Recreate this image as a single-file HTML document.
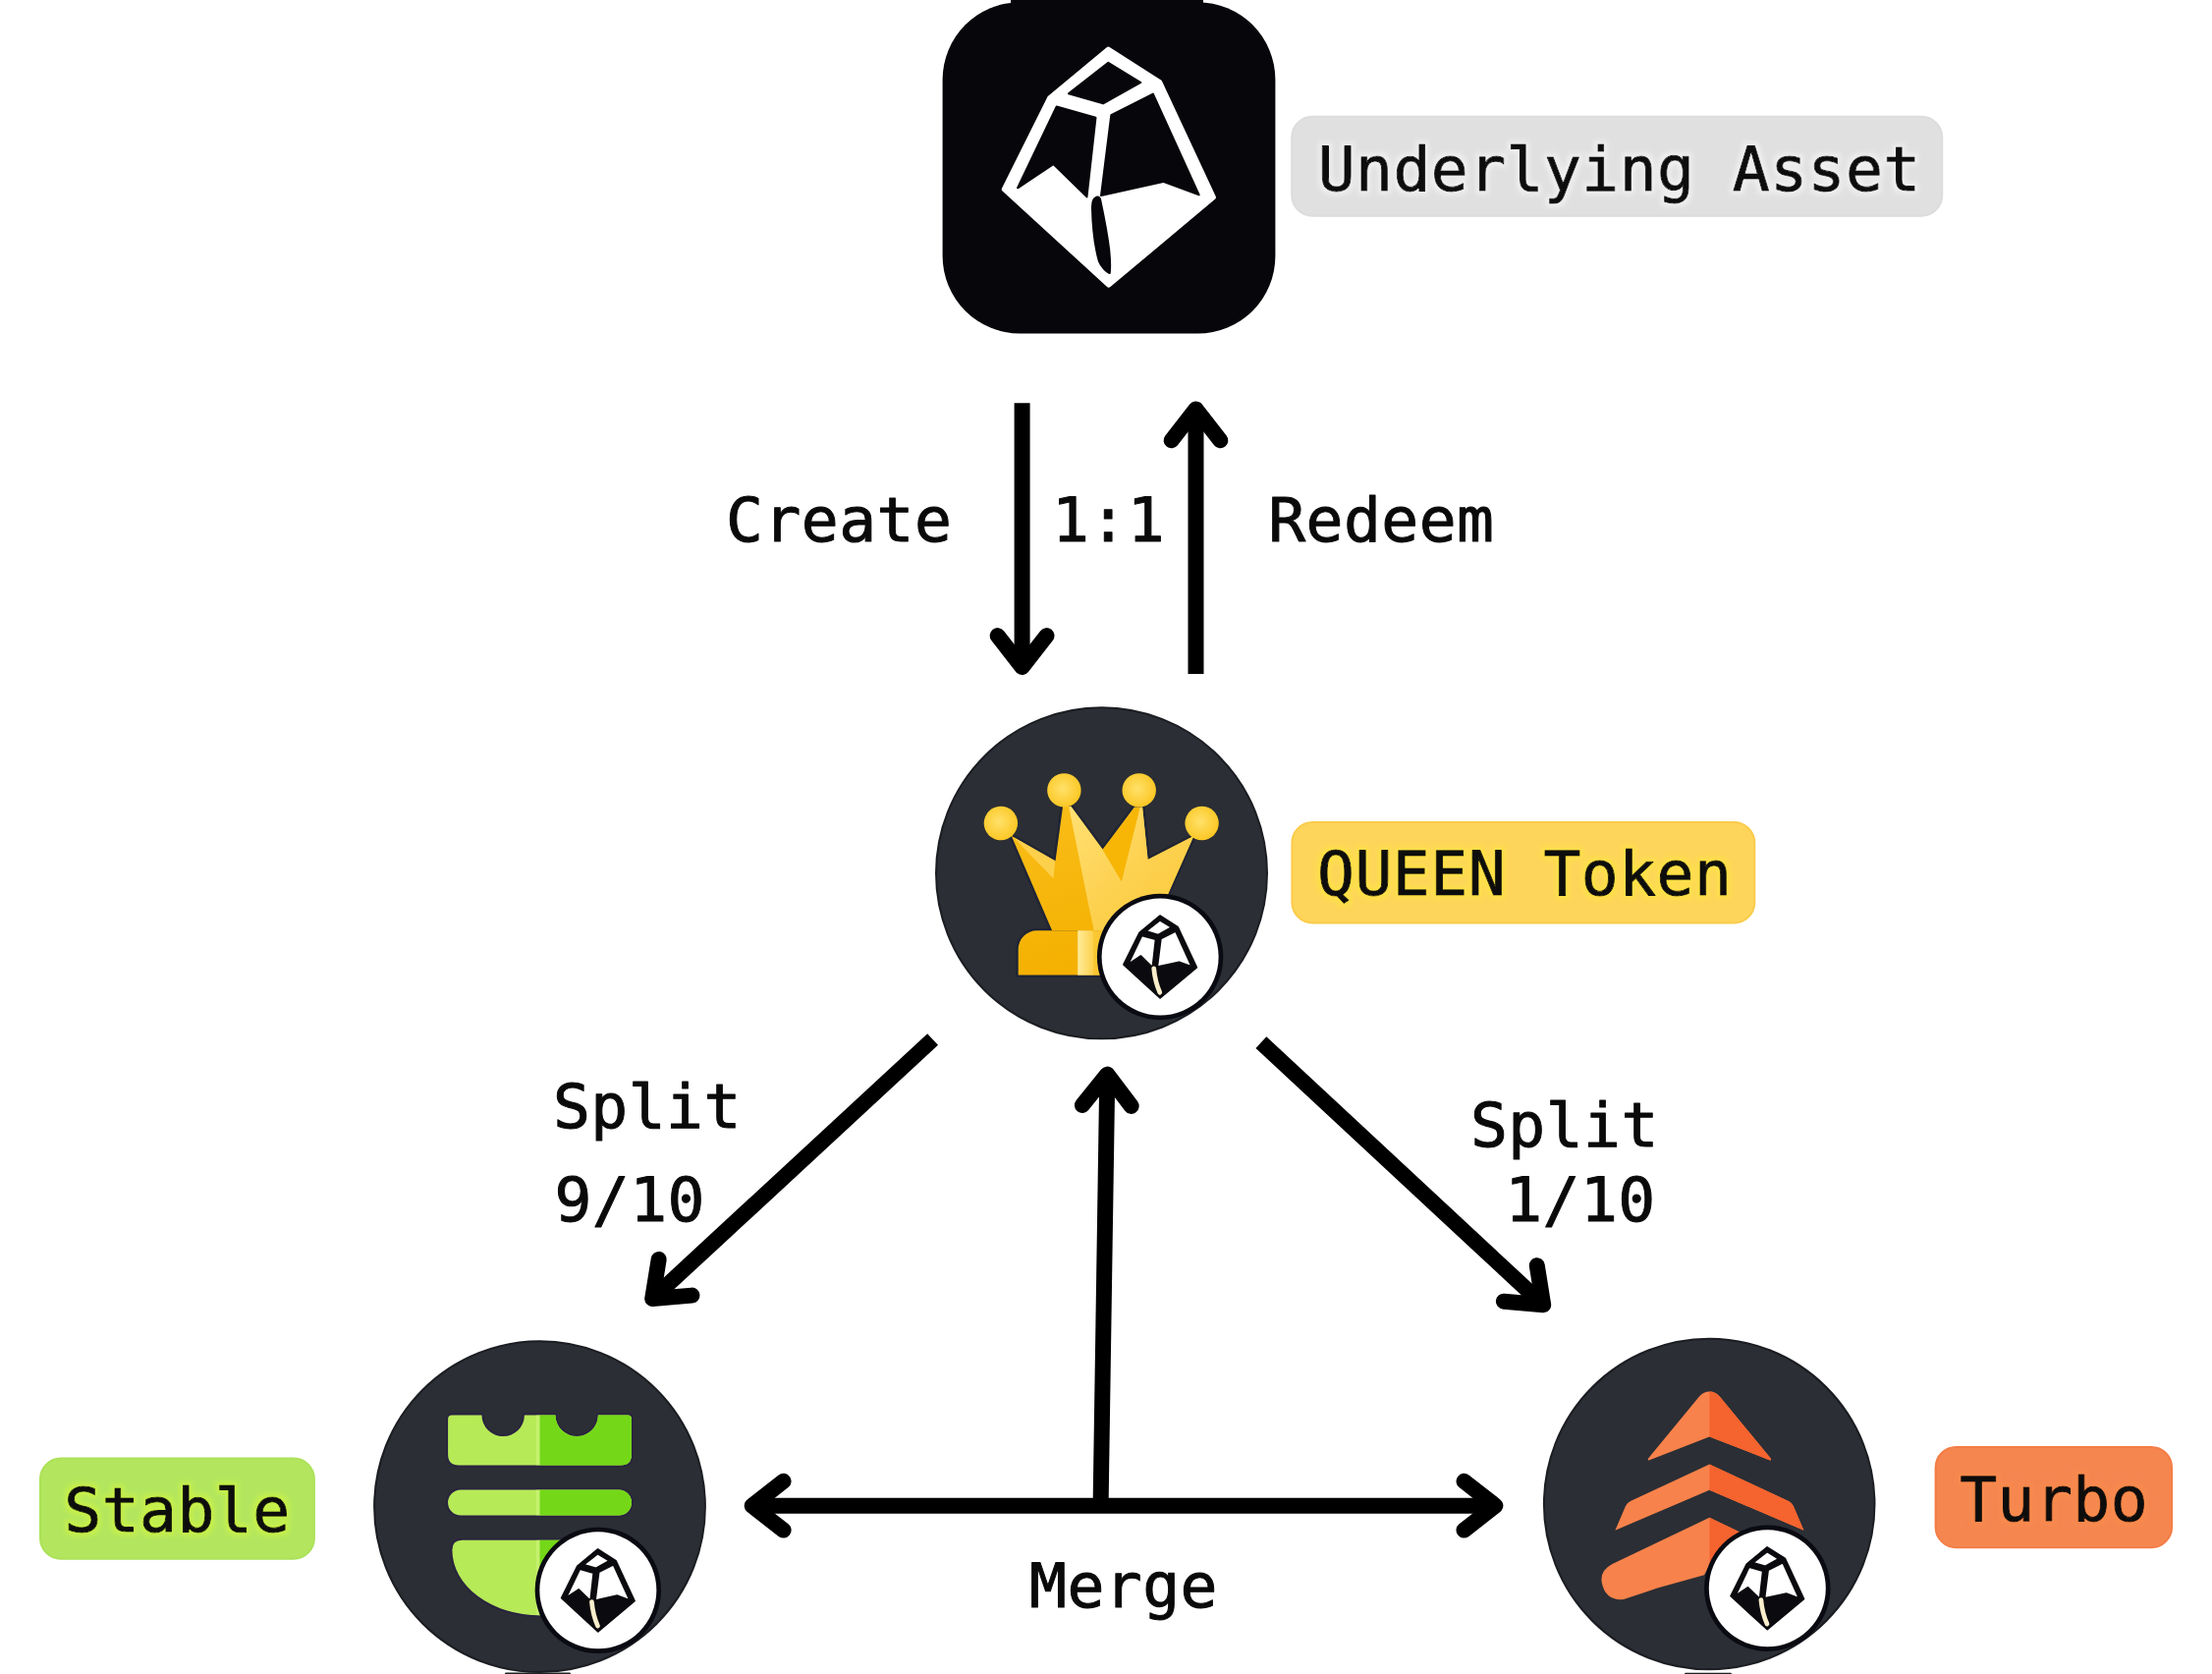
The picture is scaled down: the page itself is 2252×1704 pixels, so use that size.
<!DOCTYPE html>
<html lang="en"><head><meta charset="utf-8"><title>Tranchess token structure</title>
<style>
html,body{margin:0;padding:0;background:#fff;}
body{width:2252px;height:1704px;overflow:hidden;}
svg{display:block;}
text{font-family:"DejaVu Sans Mono","Liberation Mono",monospace;font-size:63px;letter-spacing:0.45px;fill:#0a0a0a;stroke:#0a0a0a;stroke-width:1px;stroke-linejoin:round;text-anchor:middle;}
.arrows path{fill:none;stroke:#000;stroke-width:16;stroke-linecap:round;stroke-linejoin:round;}
.arrows path.shaft{stroke-linecap:butt;}
</style></head><body>
<svg width="2252" height="1704" viewBox="0 0 2252 1704">
<defs>

<polygon id="rk-outer" points="1128.3,50.1 1068.7,99.7 1022.3,192.6 1128.8,290.2 1235.4,200.9 1180.7,83.6" stroke-linejoin="round"/>
<g id="rk-faces"><polygon points="1128.3,63.8 1161.4,84.0 1123.1,105.4 1087.9,95.3"/><polygon points="1075.7,108.5 1115.5,119.6 1106.5,200.4 1072.4,167.1 1036.1,191.3"/><polygon points="1173.9,95.6 1131.3,117.2 1121.0,199.0 1184.2,184.9 1220.7,198.3"/></g>
<path id="rk-crack" d="M1116.5,200.6 C1112.6,201.5 1111.8,206 1112,212 C1112.4,232 1115,252 1118.9,266 C1121,271.5 1127,277.5 1129.8,277.9 C1130.6,270 1130,262 1129.2,254.2 C1127.5,240 1123.5,219 1120.2,203.5 C1119.6,201 1118.3,200.2 1116.5,200.6 Z"/>
<path id="rk-crack-s" d="M1110.5,204 C1113,232 1120,256 1128,274" fill="none" stroke-linecap="round"/>
<g id="badge">
<circle cx="0" cy="0" r="64.2" fill="#0a0a12"/>
<circle cx="0" cy="0" r="59.5" fill="#fff"/>
<g transform="scale(0.349) translate(-1128.85,-170.15)">
<use href="#rk-outer" fill="#0b0b0f" stroke="#0b0b0f" stroke-width="5"/>
<g fill="#fff"><use href="#rk-faces"/></g>
<g fill="none" stroke="#0b0b0f" stroke-width="4.5" stroke-linejoin="round"><use href="#rk-faces"/></g>
<use href="#rk-crack-s" stroke="#0b0b0f" stroke-width="21"/>
<use href="#rk-crack-s" stroke="#fbeecb" stroke-width="13.5"/>
</g>
</g>
<filter id="haloG" x="-5%" y="-30%" width="110%" height="160%"><feMorphology in="SourceAlpha" operator="dilate" radius="2.5" result="d"/><feGaussianBlur in="d" stdDeviation="2.5" result="b"/><feFlood flood-color="#f6f6f6" flood-opacity="0.7" result="f"/><feComposite in="f" in2="b" operator="in" result="h"/><feMerge><feMergeNode in="h"/><feMergeNode in="SourceGraphic"/></feMerge></filter>
<filter id="haloY" x="-5%" y="-30%" width="110%" height="160%"><feMorphology in="SourceAlpha" operator="dilate" radius="2.5" result="d"/><feGaussianBlur in="d" stdDeviation="2.5" result="b"/><feFlood flood-color="#ffe93a" flood-opacity="0.6" result="f"/><feComposite in="f" in2="b" operator="in" result="h"/><feMerge><feMergeNode in="h"/><feMergeNode in="SourceGraphic"/></feMerge></filter>
<filter id="haloL" x="-5%" y="-30%" width="110%" height="160%"><feMorphology in="SourceAlpha" operator="dilate" radius="2.5" result="d"/><feGaussianBlur in="d" stdDeviation="2.5" result="b"/><feFlood flood-color="#d6f83a" flood-opacity="0.6" result="f"/><feComposite in="f" in2="b" operator="in" result="h"/><feMerge><feMergeNode in="h"/><feMergeNode in="SourceGraphic"/></feMerge></filter>
<filter id="haloO" x="-5%" y="-30%" width="110%" height="160%"><feMorphology in="SourceAlpha" operator="dilate" radius="2.5" result="d"/><feGaussianBlur in="d" stdDeviation="2.5" result="b"/><feFlood flood-color="#ff9046" flood-opacity="0.4" result="f"/><feComposite in="f" in2="b" operator="in" result="h"/><feMerge><feMergeNode in="h"/><feMergeNode in="SourceGraphic"/></feMerge></filter>
<clipPath id="shieldClip"><path d="M460.1,1440.4 H490.5 A21.7,21.7 0 0 0 533.9,1440.4 H565.5 A21.7,21.7 0 0 0 608.9,1440.4 H639 Q643,1440.4 643,1444.4 V1480.5 Q643,1491.5 632,1491.5 H467.1 Q456.1,1491.5 456.1,1480.5 V1444.4 Q456.1,1440.4 460.1,1440.4 Z M469.1,1516.5 H630 A13,13 0 0 1 630,1542.6 H469.1 A13,13 0 0 1 469.1,1542.6 A13,13 0 0 1 469.1,1516.5 Z M470.4,1567.8 H628.7 Q638.7,1567.8 638.7,1577.8 A89.15,66.5 0 0 1 460.4,1577.8 Q460.4,1567.8 470.4,1567.8 Z"/></clipPath>
<clipPath id="rightS"><rect x="549.2" y="1400" width="200" height="304"/></clipPath>
<clipPath id="rightT"><rect x="1740.4" y="1380" width="200" height="324"/></clipPath>
<radialGradient id="ball" cx="0.45" cy="0.45" r="0.6"><stop offset="0" stop-color="#ffe16a"/><stop offset="1" stop-color="#fbc51f"/></radialGradient>
<linearGradient id="crownL" gradientUnits="userSpaceOnUse" x1="1095" y1="825" x2="1200" y2="945"><stop offset="0" stop-color="#ffdf72"/><stop offset="0.5" stop-color="#fdd252"/><stop offset="1" stop-color="#fcc838"/></linearGradient>
<linearGradient id="crownD" gradientUnits="userSpaceOnUse" x1="1040" y1="830" x2="1100" y2="990"><stop offset="0" stop-color="#f9bd18"/><stop offset="1" stop-color="#f4b000"/></linearGradient>
<linearGradient id="baseHi" x1="0" x2="1" y1="0" y2="0"><stop offset="0" stop-color="#ffeb9a"/><stop offset="1" stop-color="#fdd04a"/></linearGradient>
</defs>
<rect width="2252" height="1704" fill="#fff"/>

<g id="underlying-icon">
<rect x="959.6" y="2.2" width="338.8" height="337.4" rx="79" ry="79" fill="#07070b"/>
<rect x="1029" y="-2" width="196" height="8" rx="3" fill="#07070b"/>
<use href="#rk-outer" fill="#fff" stroke="#fff" stroke-width="5"/>
<g fill="#07070b" stroke="#07070b" stroke-width="2" stroke-linejoin="round"><use href="#rk-faces"/><use href="#rk-crack"/></g>
</g>

<rect x="1315.2" y="118.8" width="662.0" height="100.9" rx="21" ry="21" fill="#e0e0e0" stroke="#dcdcdc" stroke-width="2"/>
<text x="1648.7" y="193.6" filter="url(#haloG)">Underlying Asset</text>
<rect x="1315.4" y="837.1" width="470.9" height="102.3" rx="21" ry="21" fill="#fdd55a" stroke="#fbcb4b" stroke-width="2"/>
<text x="1552.2" y="911" filter="url(#haloY)">QUEEN Token</text>
<rect x="41" y="1484.5" width="278.9" height="102.2" rx="21" ry="21" fill="#b3e65e" stroke="#ace158" stroke-width="2"/>
<text x="180.4" y="1559.4" filter="url(#haloL)">Stable</text>
<rect x="1970.6" y="1472.9" width="240.5" height="102.4" rx="21" ry="21" fill="#f58650" stroke="#f47d45" stroke-width="2"/>
<text x="2091.2" y="1547.6" filter="url(#haloO)">Turbo</text>
<text x="854.2" y="551">Create</text>
<text x="1128.5" y="551">1:1</text>
<text x="1406.3" y="551">Redeem</text>
<text x="658.9" y="1147.5">Split</text>
<text x="641.2" y="1243.1">9/10</text>
<text x="1592.9" y="1167.2">Split</text>
<text x="1608.9" y="1243.1">1/10</text>
<text x="1144" y="1635.6">Merge</text>
<g class="arrows">
<path d="M1040.6,410.3 L1040.6,679.0" class="shaft"/>
<path d="M1065.5,647.1 L1040.6,679.0 L1015.7,647.1"/>
<path d="M1217.5,686.0 L1217.5,416.4" class="shaft"/>
<path d="M1192.6,448.3 L1217.5,416.4 L1242.4,448.3"/>
<path d="M765.7,1532.7 L1522.4,1532.7" class="shaft"/>
<path d="M1490.5,1507.8 L1522.4,1532.7 L1490.5,1557.6"/>
<path d="M797.6,1557.6 L765.7,1532.7 L797.6,1507.8"/>
<path d="M1120.6,1532.0 L1127.3,1093.6" class="shaft"/>
<path d="M1101.9,1125.1 L1127.3,1093.6 L1151.7,1125.9"/>
<path d="M949.6,1058.0 L664.2,1322.0" class="shaft"/>
<path d="M704.5,1318.6 L664.2,1322.0 L670.7,1282.0"/>
<path d="M1283.9,1061.2 L1571.2,1328.2" class="shaft"/>
<path d="M1564.8,1288.2 L1571.2,1328.2 L1530.9,1324.7"/>
</g>
<g id="queen"><circle cx="1121.5" cy="888.8" r="168.5" fill="#2b2e34" stroke="#1b1d22" stroke-width="2"/>
<g fill="none" stroke="#141a38" stroke-opacity="0.45" stroke-width="5" stroke-linejoin="round"><polygon points="1029.8,851.1 1074.5,876.5 1082.1,820.8 1090.3,820.8 1122.6,864.8 1154.9,821.5 1163.1,821.5 1168.6,875.1 1215.3,851.1 1172.7,947.2 1071.1,947.2"/><path d="M1036.7,992.6 V966.2 A19,19 0 0 1 1055.7,947.2 H1206 V992.6 Z"/></g>
<polygon points="1029.8,851.1 1074.5,876.5 1082.1,820.8 1090.3,820.8 1122.6,864.8 1154.9,821.5 1163.1,821.5 1168.6,875.1 1215.3,851.1 1172.7,947.2 1071.1,947.2" fill="url(#crownD)"/>
<path d="M1036.7,992.6 V966.2 A19,19 0 0 1 1055.7,947.2 H1206 V992.6 Z" fill="url(#crownD)"/>
<polygon points="1088.2,821.5 1090.3,820.8 1122.6,864.8 1141.8,897.1 1160.4,822.2 1163.1,821.5 1168.6,875.1 1215.3,851.1 1172.7,947.2 1113.7,947.2 1108.2,921.1" fill="url(#crownL)"/>
<polygon points="1122.6,864.8 1156.9,822.0 1160.4,822.2 1141.8,897.1" fill="#f7b606"/>
<polygon points="1031.2,851.8 1074.3,876.3 1072.4,894.3" fill="#fdd04c"/>
<rect x="1097.2" y="947.2" width="16.5" height="45.4" fill="url(#baseHi)"/>
<rect x="1113.7" y="947.2" width="92" height="45.4" fill="#fac632"/>
<circle cx="1018.9" cy="838" r="17.2" fill="url(#ball)"/>
<circle cx="1083.4" cy="804.4" r="17.2" fill="url(#ball)"/>
<circle cx="1159.7" cy="804.4" r="17.2" fill="url(#ball)"/>
<circle cx="1223.6" cy="838" r="17.2" fill="url(#ball)"/>
<use href="#badge" transform="translate(1181.1,974)"/>
</g>
<g id="stable"><circle cx="549.5" cy="1533.7" r="168.4" fill="#2b2e34" stroke="#1b1d22" stroke-width="2"/>
<path d="M460.1,1440.4 H490.5 A21.7,21.7 0 0 0 533.9,1440.4 H565.5 A21.7,21.7 0 0 0 608.9,1440.4 H639 Q643,1440.4 643,1444.4 V1480.5 Q643,1491.5 632,1491.5 H467.1 Q456.1,1491.5 456.1,1480.5 V1444.4 Q456.1,1440.4 460.1,1440.4 Z M469.1,1516.5 H630 A13,13 0 0 1 630,1542.6 H469.1 A13,13 0 0 1 469.1,1542.6 A13,13 0 0 1 469.1,1516.5 Z M470.4,1567.8 H628.7 Q638.7,1567.8 638.7,1577.8 A89.15,66.5 0 0 1 460.4,1577.8 Q460.4,1567.8 470.4,1567.8 Z" fill="none" stroke="#2a1a4c" stroke-opacity="0.5" stroke-width="4" stroke-linejoin="round"/>
<path d="M460.1,1440.4 H490.5 A21.7,21.7 0 0 0 533.9,1440.4 H565.5 A21.7,21.7 0 0 0 608.9,1440.4 H639 Q643,1440.4 643,1444.4 V1480.5 Q643,1491.5 632,1491.5 H467.1 Q456.1,1491.5 456.1,1480.5 V1444.4 Q456.1,1440.4 460.1,1440.4 Z M469.1,1516.5 H630 A13,13 0 0 1 630,1542.6 H469.1 A13,13 0 0 1 469.1,1542.6 A13,13 0 0 1 469.1,1516.5 Z M470.4,1567.8 H628.7 Q638.7,1567.8 638.7,1577.8 A89.15,66.5 0 0 1 460.4,1577.8 Q460.4,1567.8 470.4,1567.8 Z" fill="#b7ea57"/>
<path d="M460.1,1440.4 H490.5 A21.7,21.7 0 0 0 533.9,1440.4 H565.5 A21.7,21.7 0 0 0 608.9,1440.4 H639 Q643,1440.4 643,1444.4 V1480.5 Q643,1491.5 632,1491.5 H467.1 Q456.1,1491.5 456.1,1480.5 V1444.4 Q456.1,1440.4 460.1,1440.4 Z M469.1,1516.5 H630 A13,13 0 0 1 630,1542.6 H469.1 A13,13 0 0 1 469.1,1542.6 A13,13 0 0 1 469.1,1516.5 Z M470.4,1567.8 H628.7 Q638.7,1567.8 638.7,1577.8 A89.15,66.5 0 0 1 460.4,1577.8 Q460.4,1567.8 470.4,1567.8 Z" fill="#74d818" clip-path="url(#rightS)"/>
<rect x="545.7" y="1440" width="4" height="210" fill="#d2f582" opacity="0.55" clip-path="url(#shieldClip)"/>
<use href="#badge" transform="translate(608.85,1618.85)"/>
</g>
<g id="turbo"><circle cx="1740.2" cy="1531.0" r="168.3" fill="#2b2e34" stroke="#1b1d22" stroke-width="2"/>
<path d="M1740.4,1416.6 Q1734.5,1416.6 1730,1421.5 L1678.5,1484 Q1676.3,1487.4 1680,1486 L1740.4,1462.4 L1800.8000000000002,1486 Q1804.5000000000002,1487.4 1802.3000000000002,1484 L1750.8000000000002,1421.5 Q1746.3000000000002,1416.6 1740.4,1416.6 Z M1740.4,1490.6 L1660,1528 Q1656.5,1529.7 1655,1533 L1644.4,1557.7 L1740.4,1516.8 L1836.4,1557.7 L1825.8000000000002,1533 Q1824.3000000000002,1529.7 1820.8000000000002,1528 Z M1740.4,1544.8 L1641.5,1592.1 Q1628.5,1599 1630.8,1611 Q1634.5,1629.8 1653,1628 Q1672,1622 1687.4,1616.6 L1735,1603.3 L1740.4,1593 L1745.8000000000002,1603.3 L1793.4,1616.6 Q1808.8000000000002,1622 1827.8000000000002,1628 Q1846.3000000000002,1629.8 1850.0000000000002,1611 Q1852.3000000000002,1599 1839.3000000000002,1592.1 Z" fill="#f8824b"/>
<path d="M1740.4,1416.6 Q1734.5,1416.6 1730,1421.5 L1678.5,1484 Q1676.3,1487.4 1680,1486 L1740.4,1462.4 L1800.8000000000002,1486 Q1804.5000000000002,1487.4 1802.3000000000002,1484 L1750.8000000000002,1421.5 Q1746.3000000000002,1416.6 1740.4,1416.6 Z M1740.4,1490.6 L1660,1528 Q1656.5,1529.7 1655,1533 L1644.4,1557.7 L1740.4,1516.8 L1836.4,1557.7 L1825.8000000000002,1533 Q1824.3000000000002,1529.7 1820.8000000000002,1528 Z M1740.4,1544.8 L1641.5,1592.1 Q1628.5,1599 1630.8,1611 Q1634.5,1629.8 1653,1628 Q1672,1622 1687.4,1616.6 L1735,1603.3 L1740.4,1593 L1745.8000000000002,1603.3 L1793.4,1616.6 Q1808.8000000000002,1622 1827.8000000000002,1628 Q1846.3000000000002,1629.8 1850.0000000000002,1611 Q1852.3000000000002,1599 1839.3000000000002,1592.1 Z" fill="#f5632e" clip-path="url(#rightT)"/>
<use href="#badge" transform="translate(1799.3,1616.8)"/>
</g>
<rect x="514" y="1702.6" width="67" height="3" rx="1.2" fill="#202226"/><rect x="1715" y="1702.8" width="48" height="3" rx="1.2" fill="#202226"/>
</svg></body></html>
